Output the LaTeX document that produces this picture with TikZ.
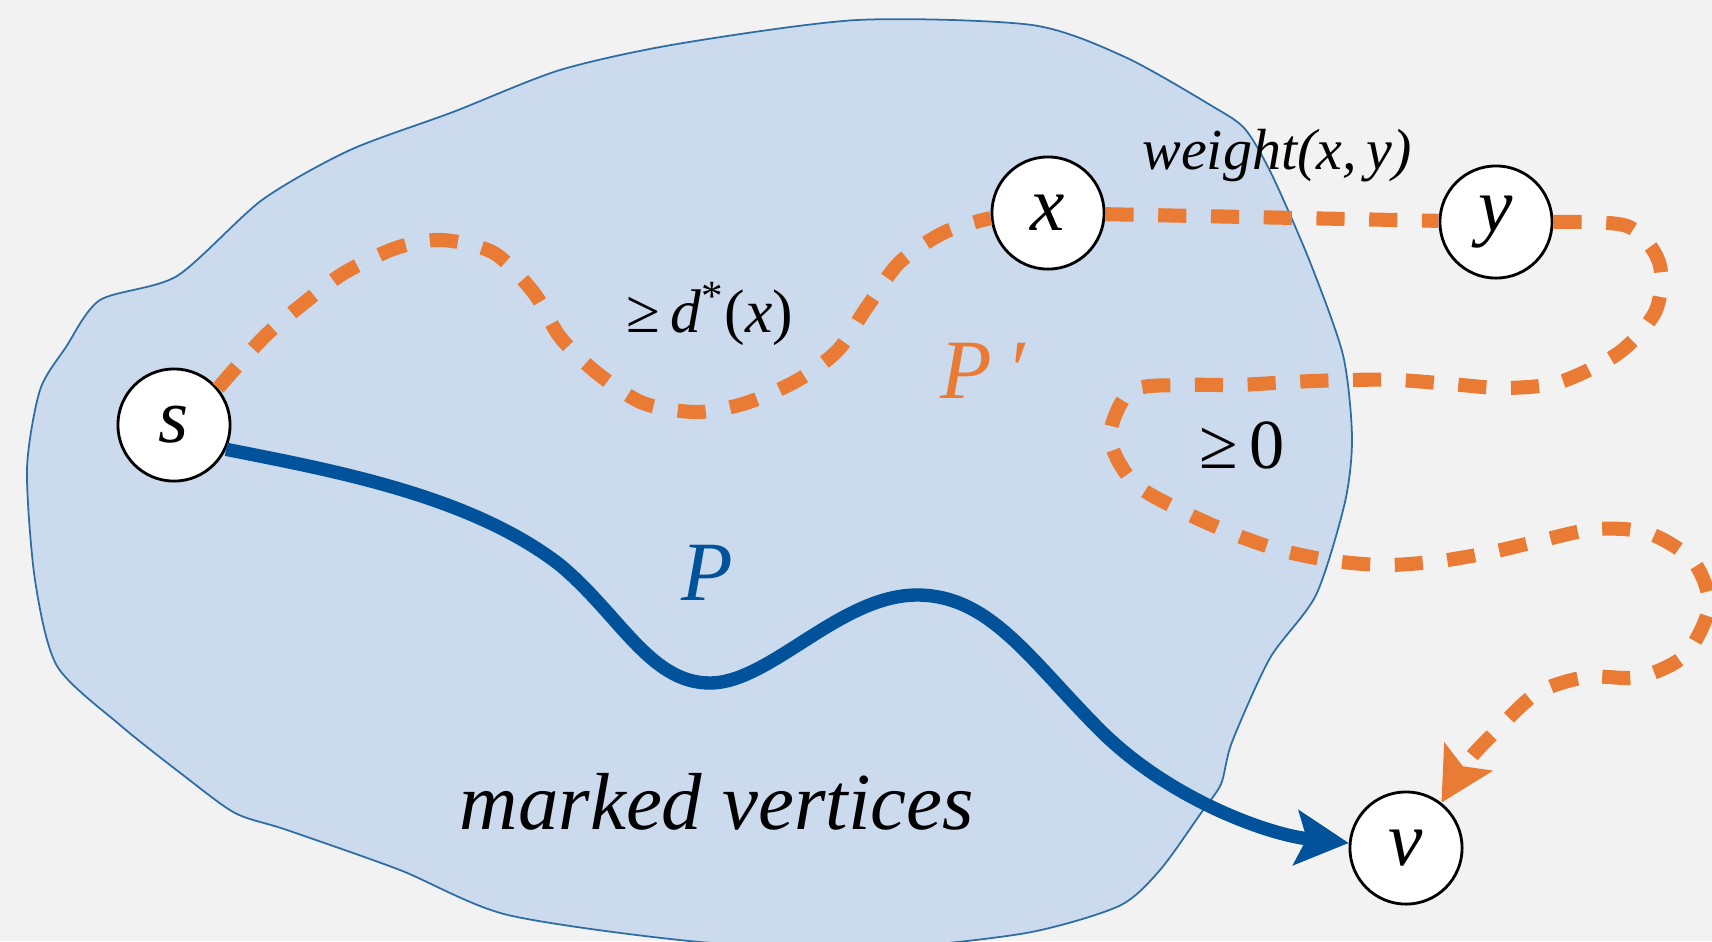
\documentclass[tikz,border=0pt]{standalone}
\usepackage{fontspec}
\setmainfont{Liberation Serif}
\usetikzlibrary{arrows.meta}
\definecolor{bgcol}{HTML}{F2F2F2}
\definecolor{blobfill}{HTML}{CBDAEC}
\definecolor{blobline}{HTML}{2E6DA4}
\definecolor{porange}{HTML}{E97B35}
\definecolor{pblue}{HTML}{00539A}
\begin{document}
\begin{tikzpicture}[x=0.01cm,y=-0.01cm,
  vert/.style={circle,draw=black,line width=0.8pt,fill=white,minimum size=31.9pt,inner sep=0pt,font=\fontsize{22}{22}\selectfont\itshape},
  ppath/.style={draw=porange,line width=4pt,dash pattern=on 8pt off 7pt},
  bpath/.style={draw=pblue,line width=3.8pt},
  tip/.style={-{Stealth[length=15pt,width=15.5pt,inset=3pt]}},
  lbl/.style={inner sep=0pt}]
\useasboundingbox (0,0) rectangle (1712,941);
\fill[bgcol] (0,0) rectangle (1712,941);
\begin{scope}
\clip (0,0) rectangle (1712,941);
\filldraw[fill=blobfill,draw=blobline,line width=0.5pt] plot[smooth cycle,tension=0.45] coordinates {
 (857,20) (1032,25) (1125,57) (1212,106) (1245,129) (1272,175) (1310,262) (1343,355) (1352,437) (1345,502) (1316,595) (1270,658) (1232,742) (1221,784) (1201,813) (1160,870) (1119,906) (1026,933) (880,948) (700,942) (508,915) (400,870) (287,830) (235,813) (183,775) (120,725) (57,666) (35,580) (27,469) (40,390) (66,347) (100,300) (177,276) (262,200) (350,150) (453,112) (560,70) (677,44)};
\end{scope}

\node[vert] (s) at (174,425) {s};
\node[vert] (x) at (1048,213) {x};
\node[vert] (y) at (1496,222) {y};
\node[vert] (v) at (1406,848) {v};

% P' : s -> x
\draw[ppath] plot[smooth,tension=0.5] coordinates {(s.40) (264,337) (304,303) (344,273) (396,248) (442,240) (494,253) (534,293) (560,337) (597,373) (643,403) (697,412) (746,403) (798,380) (838,350) (867,307) (900,262) (945,232) (x.185)};
% x -> y
\draw[ppath] (x) -- (y);
% y -> v
\draw[ppath,tip] plot[smooth,tension=0.5] coordinates {(y.east) (1627,226) (1659,262) (1656,310) (1620,352) (1560,382) (1504,388) (1451,384) (1397,380) (1344,380) (1291,382) (1237,385) (1184,385) (1131,391) (1110,437) (1133,482) (1180,510) (1231,533) (1280,550) (1334,561) (1387,565) (1440,561) (1492,552) (1543,540) (1596,529) (1648,533) (1693,561) (1709,606) (1685,655) (1639,677) (1586,677) (1537,693) (1496,731) (1467,762) (v.52)};

% P : s -> v
\draw[bpath,tip] (s.-25) .. controls (330,470) and (470,495) .. (560,565)
  .. controls (620,615) and (650,683) .. (710,683)
  .. controls (770,683) and (840,595) .. (917,595)
  .. controls (990,595) and (1030,660) .. (1100,730)
  .. controls (1170,800) and (1270,835) .. (v.175);

\node[lbl,font=\fontsize{17.5}{17.5}\selectfont] (dlab) at (710,314) {≥\,\textit{d}\textsuperscript{*}(\textit{x})};
\node[lbl,font=\fontsize{20}{20}\selectfont] (zlab) at (1242,445) {≥\,0};
\node[lbl,font=\fontsize{16.5}{16.5}\selectfont\itshape] (wlab) at (1277,156) {weight(x,\,y)};
\node[lbl,font=\fontsize{24}{24}\selectfont\itshape,text=porange] (pplab) at (983,371) {P\,′};
\node[lbl,font=\fontsize{24}{24}\selectfont\itshape,text=pblue] (plab) at (707,573) {P};
\node[lbl,font=\fontsize{23}{23}\selectfont\itshape] (mlab) at (717,802) {marked vertices};
\end{tikzpicture}
\end{document}
